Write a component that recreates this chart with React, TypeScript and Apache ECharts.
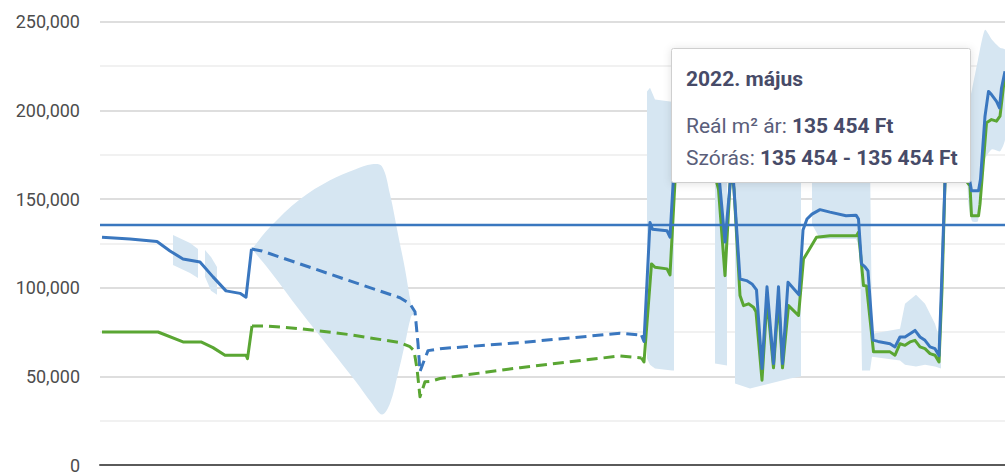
import React, { useEffect, useRef } from "react";
import * as echarts from "echarts";

// x = month index (hidden axis), y = Ft / m²
const blueSolidA: [number, number][] = [[0.4,128500],[6,127400],[11.4,126000],[14,120700],[16.6,116200],[20,114500],[22.6,106100],[25.2,98200],[28,96800],[29.2,94600],[30.3,121800]];
const blueDashed: [number, number][] = [[30.3,121800],[32.4,120700],[40,113400],[50,103800],[60,94300],[62,90900],[63,86400],[63.6,68400],[64,52700],[64.6,57200],[65.6,64500],[68,65600],[84,69000],[104,74300],[108.3,73200]];
const blueSolidB: [number, number][] = [[108.3,73200],[108.8,69700],[110,136800],[110.5,133000],[113.4,132100],[114,128500],[114.6,157800],[115.2,178000],[120,183600],[123.2,178000],[123.9,160000],[125,125700],[126,157800],[126.3,169600],[126.7,160000],[128,104900],[129.3,104000],[130.4,102100],[131.3,98800],[132.4,54400],[133.4,100500],[134.7,57200],[135.7,100500],[136.5,57200],[137.6,103000],[139.8,96000],[140.6,132500],[141.4,138700],[142.4,141500],[144,144000],[146,142600],[149.2,140600],[151.2,140900],[151.7,138700],[152.3,113400],[153,111700],[153.6,109400],[154.6,70400],[155.6,69700],[158,68400],[159,66600],[160,72200],[161,72200],[162,74000],[163,75900],[164,72200],[165,70300],[166,66600],[167,65600],[167.8,61700],[168.3,101200],[169,160000],[169.6,172400],[173,169600],[174,159400],[174.3,154600],[175.7,154600],[176.1,161100],[177,196700],[177.7,210700],[178.3,208900],[179.3,205100],[179.9,201400],[180.3,212600],[181,222000]];

const greenSolidA: [number, number][] = [[0.4,75000],[11.6,75000],[16.6,69400],[20.2,69400],[22.6,66200],[25,61900],[29.2,61900],[29.5,60000],[30.4,78400]];
const greenDashed: [number, number][] = [[30.4,78400],[33,78400],[40,76900],[50,73500],[60,69000],[62,66700],[62.8,64500],[63.4,54400],[64,38500],[65,46900],[66,47100],[68,48800],[84,54900],[104,61500],[108.3,60400]];
const greenSolidB: [number, number][] = [[108.3,60400],[108.8,58100],[110.3,113400],[111,111500],[113.4,110600],[114,107200],[115,160000],[115.6,163900],[120,163900],[123.2,161100],[123.7,155500],[125,106800],[126,158300],[126.3,165600],[126.8,155500],[128,95600],[128.7,89900],[129.7,90900],[130.7,89000],[131.2,86400],[132.4,47800],[133.4,93700],[134.7,54800],[135.7,93700],[136.5,54800],[137.7,89900],[139.7,84300],[140.7,116200],[141.7,120800],[143.3,128400],[146,129300],[151.3,129300],[151.7,131200],[152.7,101200],[153.3,101000],[154.7,63800],[155.7,63800],[158,63800],[159,61900],[160,68400],[161,67500],[162,69400],[163,70300],[164,66600],[165,65600],[166,62800],[167,61900],[167.8,58100],[168.4,99300],[169,160000],[169.6,161100],[173,161100],[174,157400],[174.3,140500],[175.7,140500],[176,147100],[177.3,193000],[178.3,194800],[179.3,193900],[180,196700],[180.7,213500],[181,220100]];

// spread band segments: [x, low, high]
const bandA1: [number, number, number][] = [[14.6,112800,129700],[18,108300,125200],[19.6,105500,121800]];
const bandA2: [number, number, number][] = [[21,106100,121200],[22.2,98200,117300],[23.4,96000,111700]];
const bandB: [number, number, number][] = [[30.4,121800,121800],[34,109400,134200],[40,87000,149900],[46,65600,160600],[51,47600,166700],[54.4,34700,169600],[56.4,28500,168400],[58,34700,152700],[59.6,51600,130200],[61,68400,110600],[62.2,83600,90900],[62.8,85300,85300]];
const bandC1: [number, number, number][] = [[109.4,60000,210600],[110,56600,212800],[111,54400,206100],[114.4,53300,204900],[114.8,53300,204900]];
const bandC2: [number, number, number][] = [[123,57200,172400],[125.4,56100,172400]];
const bandC3: [number, number, number][] = [[127,46000,172400],[130,43100,172400],[134,46000,172400],[138,48800,172400],[140.2,49900,172400]];
const bandC4: [number, number, number][] = [[142.4,135800,172400],[144,127400,172400],[151.2,127400,172400],[152,121800,172400],[152.4,53300,172400],[154,53300,172400],[154.4,61100,74000],[160,58900,76900],[161,56600,90900],[163.2,55500,96000],[165,56600,90900],[167,55500,79700],[168.2,54400,68400]];
const bandC5: [number, number, number][] = [[173.6,149900,200500],[174.4,137500,211700],[175.6,137500,228500],[177,172400,245400],[178.4,178000,239800],[180,176900,235300],[181,183600,234200]];
const bandSegments = [bandA1, bandA2, bandB, bandC1, bandC2, bandC3, bandC4, bandC5];
const bandSmooth = [0, 0, 0.35, 0, 0, 0, 0, 0.2];

const referenceValue = 135454;
const yTicks = { min: 0, max: 250000, interval: 50000 };

const tooltipTitle = "2022. május";
const tooltipPriceLabel = "Reál m² ár: ";
const tooltipPrice = "135 454 Ft";
const tooltipSpreadLabel = "Szórás: ";
const tooltipSpread = "135 454 - 135 454 Ft";

const BLUE = "#3a77bf";
const GREEN = "#5aa633";
const BAND = "#d6e6f2";
const FONT = "Roboto, 'Noto Sans', sans-serif";

export default function App() {
  const ref = useRef<HTMLDivElement>(null);
  useEffect(() => {
    if (!ref.current) return;
    const chart = echarts.init(ref.current, null, { renderer: "svg" });
    const lineCommon = (color: string, dashed: boolean) => ({
      type: "line" as const,
      symbol: "none",
      smooth: false,
      lineStyle: { color, width: 3, type: dashed ? [11, 6] : "solid", cap: "butt", join: "round" },
      silent: true,
    });
    const richText = {
      n: { fontFamily: FONT, fontSize: 21, fill: "#5a5e7a" },
      b: { fontFamily: FONT, fontSize: 21, fontWeight: "bold", fill: "#474b68" },
    };
    chart.setOption({
      animation: false,
      grid: { left: 100, right: 0, top: 21.7, bottom: 7.2 },
      xAxis: {
        type: "value",
        min: 0,
        max: 181,
        axisLabel: { show: false },
        axisTick: { show: false },
        splitLine: { show: false },
        axisLine: { show: true, lineStyle: { color: "#5a5a5a", width: 2 } },
      },
      yAxis: {
        type: "value",
        min: yTicks.min,
        max: yTicks.max,
        interval: yTicks.interval,
        axisLine: { show: false },
        axisTick: { show: false },
        axisLabel: {
          margin: 20,
          color: "#4d4d4d",
          fontSize: 18,
          fontFamily: FONT,
          formatter: (v: number) => v.toLocaleString("en-US"),
        },
        splitLine: { lineStyle: { color: "#d3d3d3", width: 1.5 } },
        minorTick: { show: false, splitNumber: 2 },
        minorSplitLine: { show: true, lineStyle: { color: "#ececec", width: 1.5 } },
      },
      series: [
        {
          type: "custom",
          silent: true,
          clip: true,
          encode: { x: 0, y: 1 },
          data: bandSegments.map((s, i) => [s[0][0], s[0][1], i]),
          renderItem: (params: any, api: any) => {
            const idx = api.value(2);
            const seg = bandSegments[idx];
            const lower = seg.map((p) => api.coord([p[0], p[1]]));
            const upper = seg.slice().reverse().map((p) => api.coord([p[0], p[2]]));
            return {
              type: "polygon",
              shape: { points: lower.concat(upper), smooth: bandSmooth[idx] },
              style: { fill: BAND },
            };
          },
          z: 1,
        },
        { ...lineCommon(GREEN, false), data: greenSolidA, z: 3 },
        { ...lineCommon(GREEN, true), data: greenDashed, z: 3 },
        { ...lineCommon(GREEN, false), data: greenSolidB, z: 3 },
        { ...lineCommon(BLUE, false), data: blueSolidA, z: 4 },
        { ...lineCommon(BLUE, true), data: blueDashed, z: 4 },
        {
          ...lineCommon(BLUE, false),
          data: blueSolidB,
          z: 4,
          markLine: {
            silent: true,
            symbol: "none",
            label: { show: false },
            lineStyle: { color: BLUE, width: 2.4, type: "solid" },
            data: [{ yAxis: referenceValue }],
          },
        },
      ],
      graphic: [
        {
          type: "rect",
          z: 100,
          zlevel: 1,
          shape: { x: 671.5, y: 48.5, width: 299, height: 134, r: 2 },
          style: {
            fill: "#ffffff",
            stroke: "#cfcfcf",
            lineWidth: 1,
            shadowBlur: 8,
            shadowColor: "rgba(0,0,0,0.12)",
            shadowOffsetY: 1,
          },
        },
        {
          type: "text",
          z: 101,
          zlevel: 1,
          x: 686,
          y: 79,
          style: {
            text: tooltipTitle,
            fontFamily: FONT,
            fontWeight: "bold",
            fontSize: 21,
            fill: "#474b68",
            verticalAlign: "middle",
          },
        },
        {
          type: "text",
          z: 101,
          zlevel: 1,
          x: 686,
          y: 126,
          style: {
            text: `{n|${tooltipPriceLabel}}{b|${tooltipPrice}}`,
            verticalAlign: "middle",
            rich: richText,
          },
        },
        {
          type: "text",
          z: 101,
          zlevel: 1,
          x: 686,
          y: 158,
          style: {
            text: `{n|${tooltipSpreadLabel}}{b|${tooltipSpread}}`,
            verticalAlign: "middle",
            rich: richText,
          },
        },
      ],
    });
    return () => chart.dispose();
  }, []);
  return (
    <div
      ref={ref}
      style={{ position: "fixed", left: 0, top: 0, width: 1005, height: 474, background: "#fff" }}
    />
  );
}
